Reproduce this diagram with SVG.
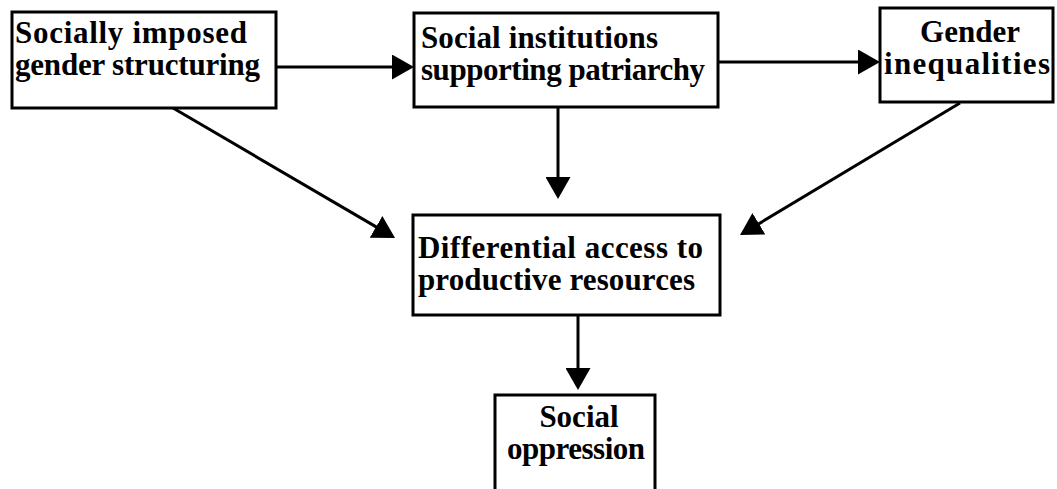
<svg xmlns="http://www.w3.org/2000/svg" width="1057" height="489" viewBox="0 0 1057 489">
<style>
.box{fill:#fff;stroke:#000;stroke-width:3}
.t{font-family:"Liberation Serif","Times New Roman",serif;font-weight:bold;font-size:31px;fill:#000}
.m{text-anchor:middle}
.c{stroke:#000;stroke-width:3;fill:none;marker-end:url(#ah)}
</style>
<defs>
<marker id="ah" markerUnits="userSpaceOnUse" markerWidth="22" markerHeight="25" refX="12" refY="12.5" orient="auto" viewBox="0 0 22 25">
<path d="M0,0 L22,12.5 L0,25 z" fill="#000"/>
</marker>
</defs>
<rect width="1057" height="489" fill="#fff"/>
<g id="connectors">
<line class="c" x1="276" y1="67" x2="404" y2="67"/>
<line class="c" x1="718" y1="62" x2="870" y2="62"/>
<line class="c" x1="558" y1="107" x2="558" y2="189"/>
<line class="c" x1="173" y1="108" x2="386.4" y2="232.9"/>
<line class="c" x1="960" y1="103" x2="748.6" y2="229.9"/>
<line class="c" x1="578" y1="315" x2="578" y2="380"/>
</g>
<g id="n1">
<rect class="box" x="12" y="12" width="264" height="96"/>
<text class="t" x="15" y="43" textLength="232">Socially imposed</text>
<text class="t" x="15" y="75" textLength="245">gender structuring</text>
</g>
<g id="n2">
<rect class="box" x="414" y="13" width="304" height="94"/>
<text class="t" x="421" y="48" textLength="237">Social institutions</text>
<text class="t" x="421" y="80" textLength="284">supporting patriarchy</text>
</g>
<g id="n3">
<rect class="box" x="880" y="8" width="173" height="94"/>
<text class="t m" x="970" y="42">Gender</text>
<text class="t" x="884" y="74" textLength="166">inequalities</text>
</g>
<g id="n4">
<rect class="box" x="413" y="215" width="307" height="100"/>
<text class="t" x="418" y="258" textLength="285">Differential access to</text>
<text class="t" x="418" y="290" textLength="277">productive resources</text>
</g>
<g id="n5">
<rect class="box" x="495" y="395" width="160" height="100"/>
<text class="t m" x="579" y="427">Social</text>
<text class="t" x="507" y="459" textLength="138">oppression</text>
</g>
</svg>
